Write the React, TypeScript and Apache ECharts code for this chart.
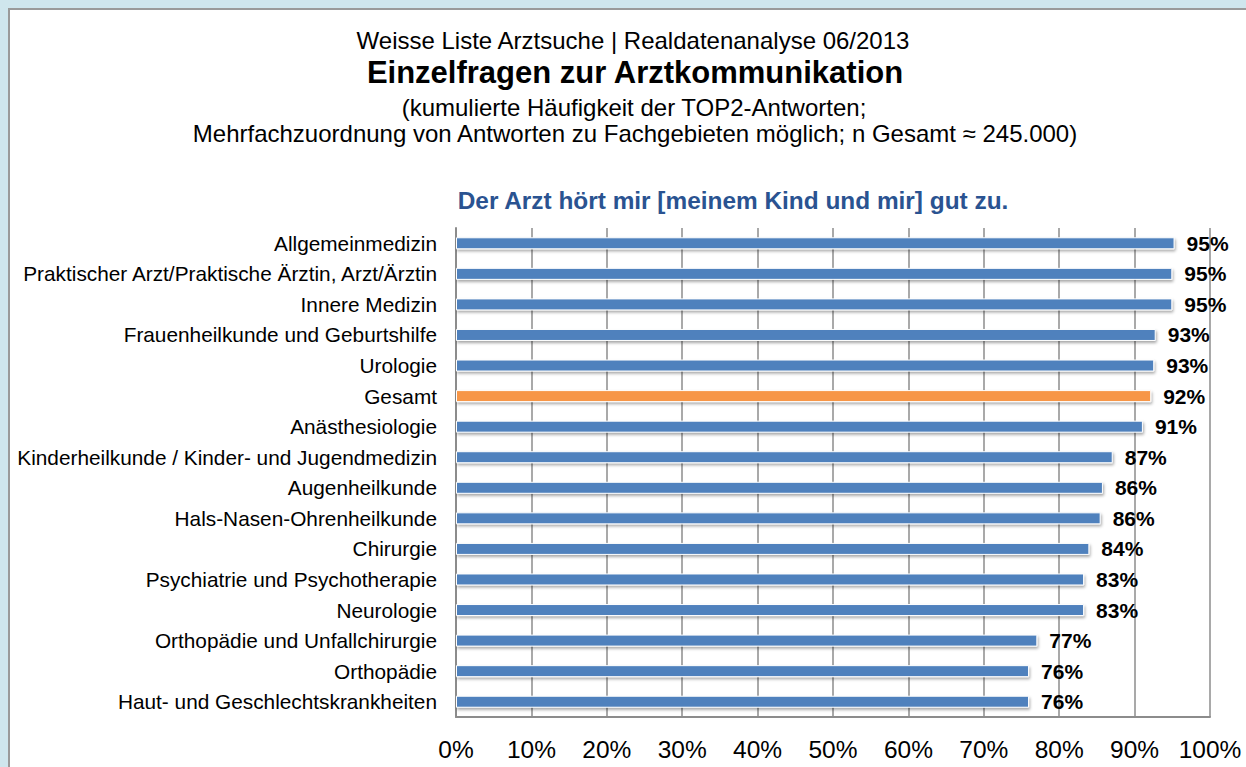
import React, { useEffect, useRef } from "react";
import * as echarts from "echarts";

const categories = [
  "Allgemeinmedizin",
  "Praktischer Arzt/Praktische Ärztin, Arzt/Ärztin",
  "Innere Medizin",
  "Frauenheilkunde und Geburtshilfe",
  "Urologie",
  "Gesamt",
  "Anästhesiologie",
  "Kinderheilkunde / Kinder- und Jugendmedizin",
  "Augenheilkunde",
  "Hals-Nasen-Ohrenheilkunde",
  "Chirurgie",
  "Psychiatrie und Psychotherapie",
  "Neurologie",
  "Orthopädie und Unfallchirurgie",
  "Orthopädie",
  "Haut- und Geschlechtskrankheiten",
];

const values = [
  0.953, 0.95, 0.95, 0.928, 0.926, 0.922, 0.911, 0.871, 0.858, 0.855, 0.84,
  0.833, 0.833, 0.771, 0.76, 0.76,
];

const highlight = "Gesamt";

const titleLines = [
  "Weisse Liste Arztsuche | Realdatenanalyse 06/2013",
  "Einzelfragen zur Arztkommunikation",
  "(kumulierte Häufigkeit der TOP2-Antworten;",
  "Mehrfachzuordnung von Antworten zu Fachgebieten möglich; n Gesamt ≈ 245.000)",
];
const subtitle = "Der Arzt hört mir [meinem Kind und mir] gut zu.";

export default function App() {
  const ref = useRef<HTMLDivElement>(null);
  useEffect(() => {
    if (!ref.current) return;
    const chart = echarts.init(ref.current, null, { renderer: "svg" });
    const font = "Liberation Sans, Arial, sans-serif";
    const txt = (text: string, x: number, y: number, f: string, fill = "#000") => ({
      type: "text",
      x,
      y,
      style: { text, font: f, fill, textAlign: "center", textVerticalAlign: "middle" },
    });
    chart.setOption({
      animation: false,
      backgroundColor: "#cfe6ed",
      textStyle: { fontFamily: font },
      graphic: [
        {
          type: "rect",
          z: -10,
          shape: { x: 9, y: 9, width: 1260, height: 780 },
          style: { fill: "#ffffff", stroke: "#9a9a9a", lineWidth: 2 },
        },
        txt(titleLines[0], 633, 40, `24px ${font}`),
        txt(titleLines[1], 635, 72, `bold 31px ${font}`),
        txt(titleLines[2], 634, 107, `24px ${font}`),
        txt(titleLines[3], 635, 133, `24px ${font}`),
        txt(subtitle, 733, 200, `bold 24.4px ${font}`, "#2a5391"),
      ],
      grid: { left: 456, right: 36, top: 228, height: 489, containLabel: false },
      xAxis: {
        type: "value",
        min: 0,
        max: 1,
        interval: 0.1,
        axisLine: { show: true, lineStyle: { color: "#8c8c8c", width: 2 } },
        axisTick: { show: false },
        splitLine: { show: true, lineStyle: { color: "#8c8c8c", width: 1.5 } },
        axisLabel: {
          formatter: (v: number) => `${Math.round(v * 100)}%`,
          fontSize: 24.5,
          color: "#000",
          margin: 20,
          fontFamily: font,
        },
      },
      yAxis: {
        type: "category",
        data: categories,
        inverse: true,
        axisLine: { show: true, lineStyle: { color: "#8c8c8c", width: 2 } },
        axisTick: { show: false },
        splitLine: { show: false },
        axisLabel: { fontSize: 20.8, color: "#000", margin: 19, fontFamily: font },
      },
      series: [
        {
          type: "bar",
          barWidth: 12,
          data: values.map((v, i) => ({
            value: v,
            itemStyle: {
              color: categories[i] === highlight ? "#f79646" : "#4f81bd",
            },
          })),
          itemStyle: {
            borderColor: "#ffffff",
            borderWidth: 1,
            shadowColor: "rgba(0,0,0,0.35)",
            shadowBlur: 3,
            shadowOffsetX: 1,
            shadowOffsetY: 2,
          },
          label: {
            show: true,
            position: "right",
            distance: 12,
            formatter: (p: any) => `${Math.round(p.value * 100)}%`,
            fontSize: 21,
            fontWeight: "bold",
            color: "#000",
            fontFamily: font,
          },
        },
      ],
    });
    return () => chart.dispose();
  }, []);
  return (
    <div
      ref={ref}
      style={{ position: "fixed", left: 0, top: 0, width: 1246, height: 767 }}
    />
  );
}
